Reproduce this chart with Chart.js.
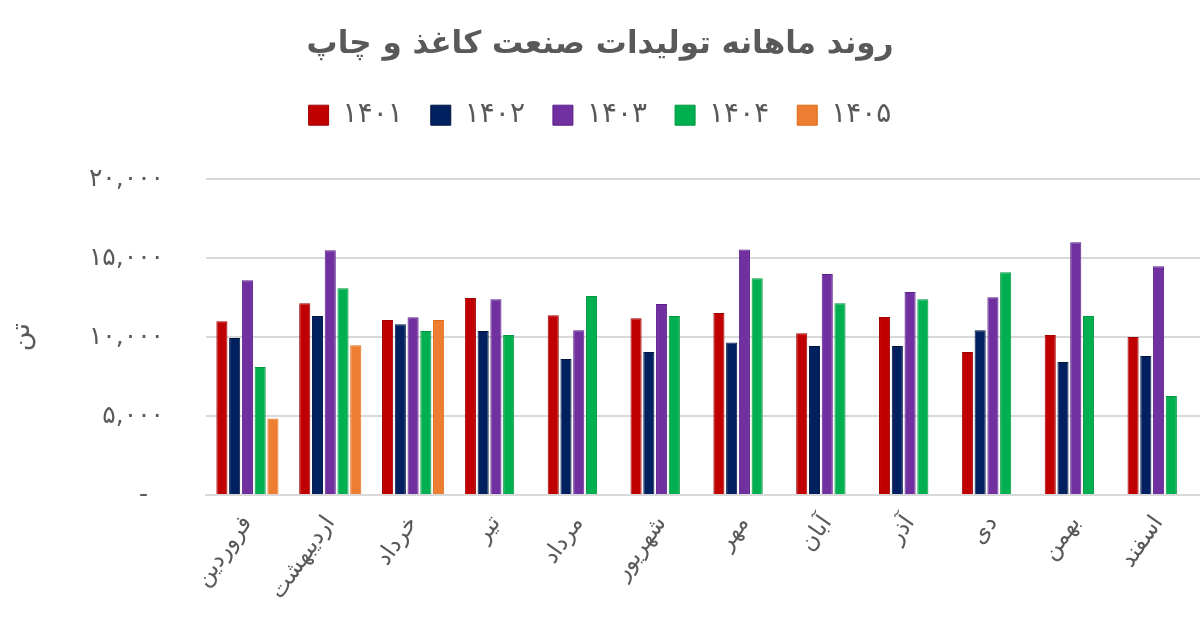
<!DOCTYPE html>
<html>
<head>
<meta charset="utf-8">
<script src="https://cdn.jsdelivr.net/npm/chart.js@4.4.1/dist/chart.umd.min.js"></script>
<style>
  html, body { margin: 0; padding: 0; background: #fff; }
</style>
</head>
<body>
<canvas id="chart" width="1200" height="636"></canvas>
<script>
const months = ['فروردین', 'اردیبهشت', 'خرداد', 'تیر', 'مرداد', 'شهریور', 'مهر', 'آبان', 'آذر', 'دی', 'بهمن', 'اسفند'];
const years = ['۱۴۰۱', '۱۴۰۲', '۱۴۰۳', '۱۴۰۴', '۱۴۰۵'];

// tonnes per month
const y1401 = [11000, 12150, 11080, 12470, 11390, 11200, 11520, 10250, 11270, 9050, 10130, 10000];
const y1402 = [9950, 11330, 10820, 10380, 8610, 9050, 9660, 9430, 9430, 10440, 8420, 8800];
const y1403 = [13600, 15500, 11250, 12400, 10440, 12090, 15550, 13990, 12850, 12530, 16010, 14490];
const y1404 = [8100, 13100, 10380, 10130, 12600, 11330, 13730, 12150, 12400, 14110, 11330, 6270];
const y1405 = [4850, 9490, 11080, null, null, null, null, null, null, null, null, null];

const yTicks = [0, 5000, 10000, 15000, 20000];

const FONT = '"DejaVu Sans", sans-serif';
const GREY = '#595959';

function toPersian(n) {
    const s = n.toString().replace(/\B(?=(\d{3})+(?!\d))/g, ',');
    return s.replace(/\d/g, d => '۰۱۲۳۴۵۶۷۸۹'[d]);
}

const colors = ['#C00000', '#002060', '#7030A0', '#00B050', '#ED7D31'];
const borders = ['#A00000', '#001540', '#5A1F8A', '#00963F', '#E06A14'];
const series = [y1401, y1402, y1403, y1404, y1405];

// push the plot area down below the legend
const legendGap = {
    id: 'legendGap',
    beforeInit(chart) {
        const fit = chart.legend.fit;
        chart.legend.fit = function () {
            fit.bind(chart.legend)();
            this.height += 40;
        };
    }
};

new Chart(document.getElementById('chart'), {
    type: 'bar',
    data: {
        labels: months,
        datasets: years.map((y, i) => ({
            label: y,
            data: series[i],
            backgroundColor: colors[i],
            borderColor: borders[i],
            borderWidth: 1,
            categoryPercentage: 0.77,
            barPercentage: 0.87
        }))
    },
    options: {
        responsive: false,
        animation: false,
        devicePixelRatio: 1,
        layout: { padding: { left: 0, right: 0, top: 0, bottom: 0 } },
        plugins: {
            title: {
                display: true,
                text: 'روند ماهانه تولیدات صنعت کاغذ و چاپ',
                color: GREY,
                font: { family: FONT, size: 31, weight: 'bold' },
                padding: { top: 26, bottom: 10 }
            },
            legend: {
                display: true,
                labels: {
                    color: GREY,
                    font: { family: FONT, size: 28 },
                    boxWidth: 20,
                    boxHeight: 20,
                    padding: 28
                }
            },
            tooltip: { enabled: false }
        },
        scales: {
            x: {
                grid: { display: false },
                border: { color: '#d9d9d9', width: 2 },
                ticks: {
                    color: GREY,
                    font: { family: FONT, size: 23 },
                    minRotation: 55,
                    maxRotation: 55,
                    padding: 8
                },
                afterFit(scale) { scale.height = 141; }
            },
            y: {
                min: 0,
                max: 20000,
                afterBuildTicks(scale) { scale.ticks = yTicks.map(v => ({ value: v })); },
                grid: { color: '#d9d9d9', lineWidth: 2, drawTicks: false },
                border: { display: false },
                ticks: {
                    color: GREY,
                    font: { family: FONT, size: 25 },
                    padding: 42,
                    callback: v => v === 0 ? '-  ' : toPersian(v)
                },
                title: {
                    display: true,
                    text: 'تن',
                    color: GREY,
                    font: { family: FONT, size: 27 },
                    padding: { top: 6, bottom: 0 }
                },
                afterFit(scale) { scale.width = 206; }
            }
        }
    },
    plugins: [legendGap]
});
</script>
</body>
</html>
